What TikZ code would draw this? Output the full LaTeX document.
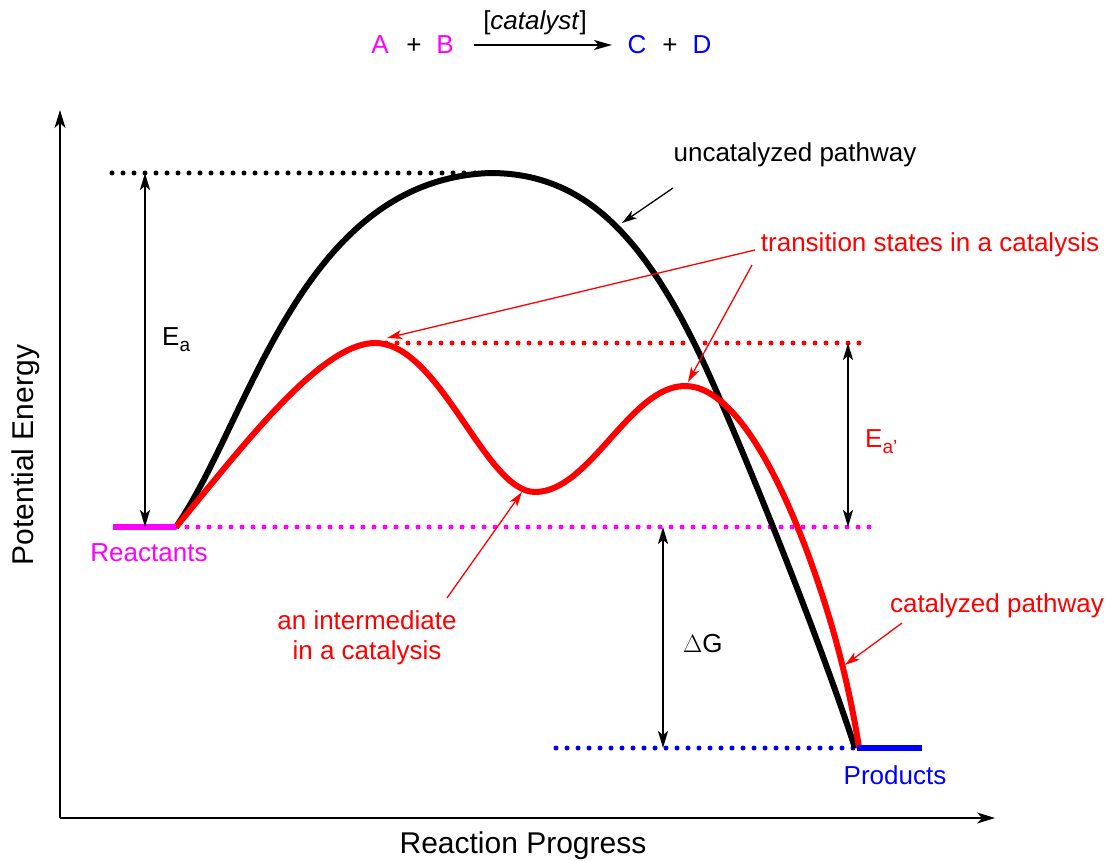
\documentclass[tikz,border=0pt]{standalone}
\usepackage{fontspec}
\setmainfont{Liberation Sans}
\usetikzlibrary{arrows.meta}
\definecolor{mag}{RGB}{255,0,255}
\definecolor{blu}{RGB}{0,0,255}
\definecolor{rd}{RGB}{255,0,0}
\newcommand{\subs}[1]{\raisebox{-6pt}{\fontsize{19}{21}\selectfont #1}}
\begin{document}
\begin{tikzpicture}[x=1pt,y=-1pt,
 lbl/.style={font=\fontsize{26}{31}\selectfont, inner sep=0pt, anchor=base},
 axlbl/.style={font=\fontsize{30}{36}\selectfont, inner sep=0pt, anchor=base},
 dots/.style={line width=5pt, line cap=round, dash pattern=on 0pt off 11pt},
 curve/.style={line width=6pt, line join=round},
 dbl/.style={line width=2pt, {Stealth[length=17pt,width=10pt,inset=4pt]}-{Stealth[length=17pt,width=10pt,inset=4pt]}},
 ann/.style={line width=1.3pt, -{Stealth[length=15pt,width=9pt,inset=4pt]}},
 axis/.style={line width=1.5pt, -{Stealth[length=18pt,width=11pt,inset=5pt]}},
 level/.style={line width=6pt}]
\useasboundingbox (0,0) rectangle (1109,861);
% axes
\coordinate (O) at (60,818);
\coordinate (ytop) at (60,110);
\coordinate (xend) at (995,818);
\draw[axis] (O) -- (ytop);
\draw[axis] (O) -- (xend);
\node[axlbl] (xlab) at (523,853) {Reaction Progress};
\node[axlbl, rotate=90] (ylab) at (34,455) {Potential Energy};
% equation
\node[lbl, text=mag] (A) at (380,54) {A};
\node[lbl] (p1) at (414,54) {+};
\node[lbl, text=mag] (B) at (445,54) {B};
\coordinate (r0) at (474,45);
\coordinate (r1) at (612,45);
\draw[line width=1.5pt, -{Stealth[length=18pt,width=10pt,inset=5pt]}] (r0) -- (r1);
\node[lbl] (cat) at (535,30) {[\textit{catalyst}]};
\node[lbl, text=blu] (C) at (637,54) {C};
\node[lbl] (p2) at (670,54) {+};
\node[lbl, text=blu] (D) at (702,54) {D};
% levels
\coordinate (R0) at (113,527);
\coordinate (R1) at (176,527);
\coordinate (Rend) at (870,527);
\coordinate (P0) at (556,748);
\coordinate (P1) at (857,748);
\coordinate (P2) at (922,748);
\coordinate (T0) at (112,173);
\coordinate (T1) at (490,173);
\coordinate (S0) at (375,343);
\coordinate (S1) at (870,343);
\draw[dots] (T0) -- (T1);
\draw[dots, rd] (S0) -- (S1);
\draw[dots, mag] (R1) -- (Rend);
\draw[dots, blu] (P0) -- (P1);
% curves
\draw[curve] (R1) .. controls (250,420) and (300,180) .. (T1)
  .. controls (580,173) and (640,230) .. (700,355)
  .. controls (740,440) and (820,640) .. (855,748);
\draw[curve, rd] (R1) .. controls (240,450) and (320,343) .. (S0)
  .. controls (440,343) and (485,492) .. (535,492)
  .. controls (590,492) and (630,386) .. (685,386)
  .. controls (745,386) and (800,520) .. (830,620)
  .. controls (845,670) and (855,720) .. (859,748);
\draw[level, mag] (R0) -- (R1);
\draw[level, blu] (P1) -- (P2);
\node[lbl, text=mag] (reac) at (149,561) {Reactants};
\node[lbl, text=blu] (prod) at (895,784) {Products};
% energy arrows
\coordinate (ea0) at (145,173);
\coordinate (ea1) at (145,527);
\draw[dbl] (ea0) -- (ea1);
\node[lbl, anchor=base west] (Ea) at (162,345) {E\subs{a}};
\coordinate (eb0) at (848,343);
\coordinate (eb1) at (848,527);
\draw[dbl] (eb0) -- (eb1);
\node[lbl, anchor=base west, text=rd] (Eb) at (865,447) {E\subs{a'}};
\coordinate (g0) at (663,527);
\coordinate (g1) at (663,748);
\draw[dbl] (g0) -- (g1);
\node[lbl, anchor=base west] (dG) at (683,652) {$\Delta$G};
% annotations
\node[lbl] (unc) at (795,162) {uncatalyzed pathway};
\coordinate (u0) at (673,188);
\coordinate (u1) at (622,223);
\draw[ann] (u0) -- (u1);
\node[lbl, text=rd] (ts) at (930,252) {transition states in a catalysis};
\coordinate (t0) at (755,250);
\coordinate (t1) at (387,338);
\coordinate (t2) at (752,265);
\coordinate (t3) at (688,382);
\draw[ann, rd] (t0) -- (t1);
\draw[ann, rd] (t2) -- (t3);
\node[lbl, text=rd] (int1) at (367,629) {an intermediate};
\node[lbl, text=rd] (int2) at (367,659) {in a catalysis};
\coordinate (i0) at (447,598);
\coordinate (i1) at (522,492);
\draw[ann, rd] (i0) -- (i1);
\node[lbl, text=rd] (cp) at (997,612) {catalyzed pathway};
\coordinate (c0) at (902,623);
\coordinate (c1) at (845,665);
\draw[ann, rd] (c0) -- (c1);
\end{tikzpicture}
\end{document}
